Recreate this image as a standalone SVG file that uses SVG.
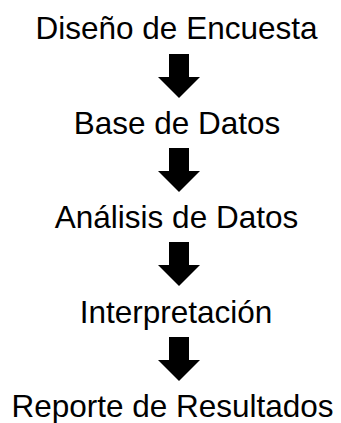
<svg xmlns="http://www.w3.org/2000/svg" width="341" height="423" viewBox="0 0 341 423">
<style>
.t{font-family:"Liberation Sans",Arial,sans-serif;font-size:31.5px;fill:#000;text-anchor:middle}
.a{fill:#000}
</style>
<defs>
<path id="arr" d="M-10,0 H10 V23 H21 L0,44 L-21,23 H-10 Z"/>
</defs>
<rect width="341" height="423" fill="#fff"/>
<g id="n1"><text class="t" x="176.5" y="39">Diseño de Encuesta</text></g>
<g id="n2"><text class="t" x="177" y="133.5">Base de Datos</text></g>
<g id="n3"><text class="t" x="176.5" y="228">Análisis de Datos</text></g>
<g id="n4"><text class="t" x="176" y="322.5">Interpretación</text></g>
<g id="n5"><text class="t" x="172.5" y="417">Reporte de Resultados</text></g>
<g id="connectors" class="a">
<use href="#arr" x="179" y="54"/>
<use href="#arr" x="179" y="148"/>
<use href="#arr" x="179" y="242"/>
<use href="#arr" x="179" y="337"/>
</g>
</svg>
